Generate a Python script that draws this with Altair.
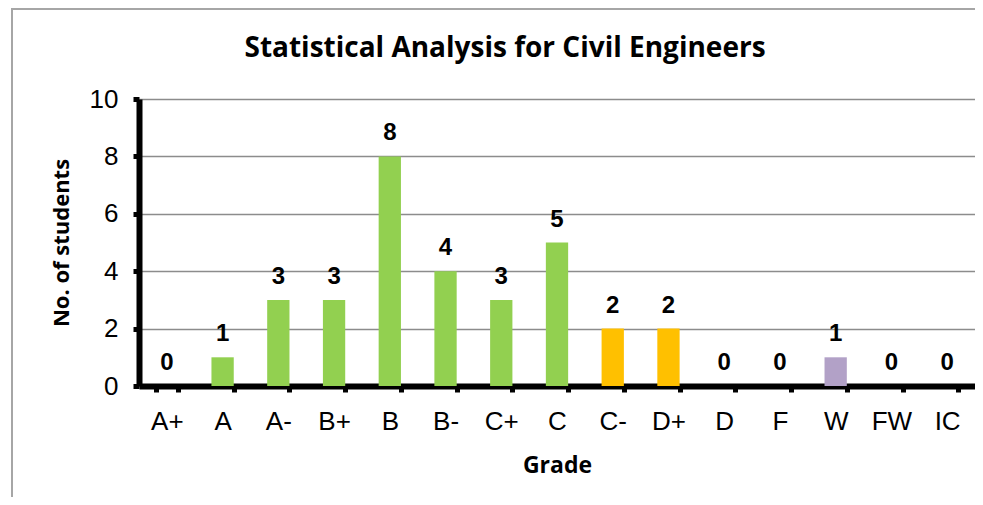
import altair as alt
import pandas as pd

grades = ["A+", "A", "A-", "B+", "B", "B-", "C+", "C", "C-", "D+", "D", "F", "W", "FW", "IC"]
students = [0, 1, 3, 3, 8, 4, 3, 5, 2, 2, 0, 0, 1, 0, 0]
groups = ["pass", "pass", "pass", "pass", "pass", "pass", "pass", "pass",
          "low", "low", "fail", "fail", "withdrawn", "withdrawn", "withdrawn"]
group_names = ["pass", "low", "fail", "withdrawn"]
group_colors = ["#92D050", "#FFC000", "#C0504D", "#B2A1C7"]
title_text = "Statistical Analysis for Civil Engineers"

df = pd.DataFrame({"grade": grades, "students": students, "group": groups})

W, H = 836, 287
LEFT, TOP = 131, 91

x = alt.X("grade:N", sort=grades, title="Grade",
          scale=alt.Scale(paddingInner=0.6, paddingOuter=0.3),
          axis=alt.Axis(labelAngle=0, labelFont="Liberation Sans", labelFontSize=26,
                        labelColor="#000", labelPadding=16, tickBand="extent",
                        domainColor="#000", domainWidth=6, tickColor="#000",
                        tickWidth=5, tickSize=6, titleFont="Open Sans",
                        titleFontSize=23, titleFontWeight="bold", titleColor="#000",
                        titlePadding=20))
y = alt.Y("students:Q", title="No. of students",
          scale=alt.Scale(domain=[0, 10]),
          axis=alt.Axis(values=[0, 2, 4, 6, 8, 10], labelFont="Liberation Sans",
                        labelFontSize=26, labelColor="#000", labelPadding=15,
                        domainColor="#000", domainWidth=6, tickColor="#000",
                        tickWidth=5, tickSize=6, grid=True, gridColor="#8C8C8C",
                        gridWidth=1.5, titleFont="Open Sans", titleFontSize=22,
                        titleFontWeight="bold", titleColor="#000", titlePadding=16))

base = alt.Chart(df)
bars = base.mark_bar().encode(
    x=x, y=y,
    color=alt.Color("group:N", scale=alt.Scale(domain=group_names, range=group_colors), legend=None),
)
labels = base.mark_text(font="Liberation Sans", fontSize=24, fontWeight="bold",
                        color="#000", baseline="alphabetic", dy=-16).encode(
    x=alt.X("grade:N", sort=grades), y="students:Q", text="students:Q")

title = alt.Chart(pd.DataFrame({"t": [title_text]})).mark_text(
    font="Open Sans", fontSize=28, fontWeight="bold", color="#000",
    baseline="alphabetic", align="center", clip=False).encode(
    x=alt.value(505 - 8 - LEFT), y=alt.value(57 - 8 - TOP), text="t:N")

frame_left = base.mark_rule(color="#A6A6A6", strokeWidth=1.5, clip=False).encode(
    x=alt.value(12 - 8 - LEFT), y=alt.value(-TOP), y2=alt.value(H + 120))
frame_top = base.mark_rule(color="#A6A6A6", strokeWidth=2, clip=False).encode(
    x=alt.value(12 - 8 - LEFT), x2=alt.value(W + 20), y=alt.value(-TOP + 0.5))

chart = alt.layer(frame_left, frame_top, bars, labels, title).properties(
    width=W, height=H,
    autosize=alt.AutoSizeParams(type="none"),
    padding={"left": LEFT, "top": TOP, "right": 983 - 16 - LEFT - W, "bottom": 505 - 16 - TOP - H},
).configure_view(stroke=None).configure(background="white")

chart.save("out.html", embed_options={"renderer": "svg", "actions": False})
